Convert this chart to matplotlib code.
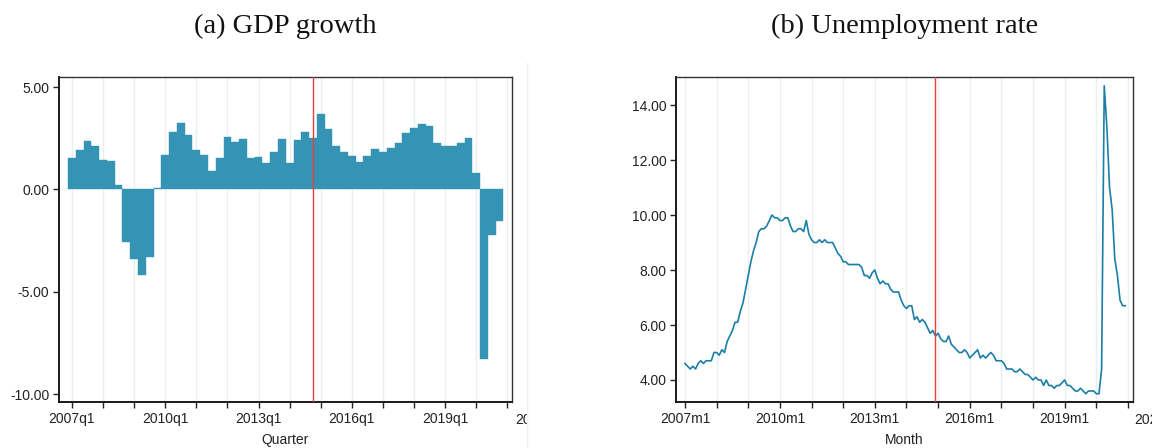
import matplotlib

matplotlib.use("Agg")

import matplotlib.pyplot as plt
import numpy as np
from matplotlib.transforms import Bbox, TransformedBbox

# Quarterly real GDP growth (year over year, %), 2007q1 - 2020q4
gdp_growth = [
    1.52, 1.91, 2.35, 2.11,
    1.42, 1.37, 0.21, -2.57,
    -3.38, -4.17, -3.30, 0.07,
    1.70, 2.82, 3.25, 2.67,
    1.94, 1.70, 0.89, 1.52,
    2.54, 2.30, 2.48, 1.52,
    1.57, 1.28, 1.85, 2.48,
    1.28, 2.41, 2.80, 2.51,
    3.67, 2.95, 2.12, 1.83,
    1.63, 1.34, 1.63, 1.97,
    1.83, 2.02, 2.27, 2.75,
    2.99, 3.19, 3.09, 2.27,
    2.12, 2.12, 2.27, 2.51,
    0.81, -8.31, -2.23, -1.55,
]

# Monthly unemployment rate (%), 2007m1 - 2020m12
unemployment = [
    4.6, 4.5, 4.4, 4.5, 4.4, 4.6, 4.7, 4.6, 4.7, 4.7, 4.7, 5.0,
    5.0, 4.9, 5.1, 5.0, 5.4, 5.6, 5.8, 6.1, 6.1, 6.5, 6.8, 7.3,
    7.8, 8.3, 8.7, 9.0, 9.4, 9.5, 9.5, 9.6, 9.8, 10.0, 9.9, 9.9,
    9.8, 9.8, 9.9, 9.9, 9.6, 9.4, 9.4, 9.5, 9.5, 9.4, 9.8, 9.3,
    9.1, 9.0, 9.0, 9.1, 9.0, 9.1, 9.0, 9.0, 9.0, 8.8, 8.6, 8.5,
    8.3, 8.3, 8.2, 8.2, 8.2, 8.2, 8.2, 8.1, 7.8, 7.8, 7.7, 7.9,
    8.0, 7.7, 7.5, 7.6, 7.5, 7.5, 7.3, 7.2, 7.2, 7.2, 6.9, 6.7,
    6.6, 6.7, 6.7, 6.2, 6.3, 6.1, 6.2, 6.1, 5.9, 5.7, 5.8, 5.6,
    5.7, 5.5, 5.4, 5.4, 5.6, 5.3, 5.2, 5.1, 5.0, 5.0, 5.1, 5.0,
    4.8, 4.9, 5.0, 5.1, 4.8, 4.9, 4.8, 4.9, 5.0, 4.9, 4.7, 4.7,
    4.7, 4.6, 4.4, 4.4, 4.4, 4.3, 4.3, 4.4, 4.3, 4.2, 4.2, 4.1,
    4.0, 4.1, 4.0, 4.0, 3.8, 4.0, 3.8, 3.8, 3.7, 3.8, 3.8, 3.9,
    4.0, 3.8, 3.8, 3.7, 3.6, 3.6, 3.7, 3.6, 3.5, 3.6, 3.6, 3.6,
    3.5, 3.5, 4.4, 14.7, 13.2, 11.0, 10.2, 8.4, 7.8, 6.9, 6.7, 6.7,
]

start_year = 2007
label_years = [2007, 2010, 2013, 2016, 2019, 2022]
policy_year = 2014  # last period of 2014 is marked

gdp_yticks = [5.0, 0.0, -5.0, -10.0]
unemp_yticks = [4.0, 6.0, 8.0, 10.0, 12.0, 14.0]

BAR_COLOR = "#3593b3"
LINE_COLOR = "#1a7fa6"
RED = "#ee3b3b"
GRID = "#e8f0f2"
TEXT = "#222222"

SANS = ["Liberation Sans", "DejaVu Sans"]
SERIF = ["Liberation Serif", "DejaVu Serif"]

plt.rcParams["font.family"] = SANS


def style_axes(ax, per_year, suffix, xlabel, fig, clip_right):

    # Year ticks on the time axis, labelled every third year
    years = list(range(start_year, label_years[-1]))
    positions = [(y - start_year) * per_year for y in years]
    labels = [
        f"{y}{suffix}1" if y in label_years else ""
        for y in years
    ]

    ax.set_xticks(positions)
    ax.set_xticklabels(labels)

    for pos in positions:
        ax.axvline(pos, color=GRID, linewidth=1.0, zorder=0)

    # The 2022 label sits past the plot edge and is cut at the panel border
    extra = ax.text(
        (label_years[-1] - start_year) * per_year,
        -0.0335,
        f"{label_years[-1]}{suffix}1",
        transform=ax.get_xaxis_transform(),
        ha="center",
        va="top",
        fontsize=10,
        color=TEXT,
    )
    extra.set_clip_on(True)
    extra.set_clip_box(
        TransformedBbox(
            Bbox([[0.0, 0.0], [clip_right, 1.0]]),
            fig.transFigure,
        )
    )

    ax.tick_params(
        axis="both",
        direction="out",
        length=4,
        width=1.0,
        labelsize=10,
        labelcolor=TEXT,
        color=TEXT,
        pad=3,
    )

    for side in ["left", "bottom"]:
        ax.spines[side].set_linewidth(1.4)
        ax.spines[side].set_color("#1a1a1a")

    for side in ["top", "right"]:
        ax.spines[side].set_linewidth(1.0)
        ax.spines[side].set_color("#333333")

    ax.set_xlabel(xlabel, fontsize=10, color=TEXT, labelpad=5)


fig = plt.figure(figsize=(11.52, 4.48), dpi=100)

# (a) GDP growth
ax1 = fig.add_axes([0.0512, 0.1027, 0.3932, 0.7254])

quarters = np.arange(len(gdp_growth))

ax1.bar(
    quarters,
    gdp_growth,
    width=1.0,
    color=BAR_COLOR,
    edgecolor=BAR_COLOR,
    linewidth=0.3,
    zorder=2,
)

ax1.axvline(
    (policy_year - start_year) * 4 + 3,
    color=RED,
    linewidth=1.0,
    zorder=3,
)

ax1.set_xlim(-1.67, 56.6)
ax1.set_ylim(-10.39, 5.49)
ax1.set_yticks(gdp_yticks)
ax1.set_yticklabels([f"{v:.2f}" for v in gdp_yticks])

style_axes(ax1, 4, "q", "Quarter", fig, 527 / 1152)

# (b) Unemployment rate
ax2 = fig.add_axes([0.5868, 0.1027, 0.3967, 0.7254])

months = np.arange(len(unemployment))

ax2.plot(
    months,
    unemployment,
    color=LINE_COLOR,
    linewidth=1.2,
    zorder=2,
)

ax2.axvline(
    (policy_year - start_year) * 12 + 11,
    color=RED,
    linewidth=1.0,
    zorder=3,
)

ax2.set_xlim(-3.4, 169.9)
ax2.set_ylim(3.2, 15.02)
ax2.set_yticks(unemp_yticks)
ax2.set_yticklabels([f"{v:.2f}" for v in unemp_yticks])

style_axes(ax2, 12, "m", "Month", fig, 1.0)

# Panel titles
for ax, title in [(ax1, "(a) GDP growth"), (ax2, "(b) Unemployment rate")]:
    box = ax.get_position()
    fig.text(
        (box.x0 + box.x1) / 2,
        0.926,
        title,
        ha="center",
        va="baseline",
        fontsize=20.5,
        family=SERIF,
        color="#111111",
    )

# Thin border between the two panels
fig.add_artist(
    plt.Line2D(
        [527 / 1152, 527 / 1152],
        [0.0, 0.86],
        color="#f0f0f0",
        linewidth=1.0,
    )
)

fig.savefig("out.png", dpi=100, facecolor="white")
